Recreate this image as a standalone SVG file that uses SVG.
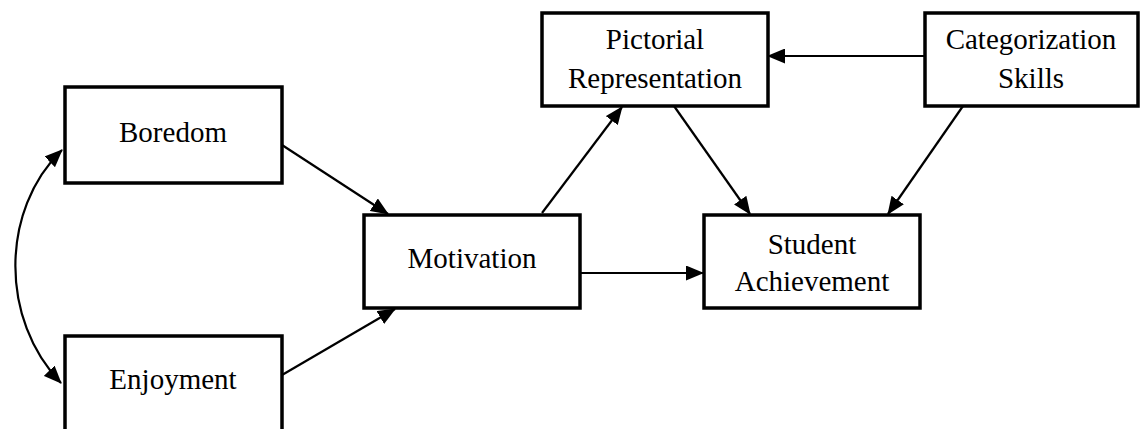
<svg xmlns="http://www.w3.org/2000/svg" width="1141" height="429" viewBox="0 0 1141 429">
<style>
.box{fill:#fff;stroke:#000;stroke-width:3.5}
.lbl{font-family:"Liberation Serif","Times New Roman",serif;font-size:29px;fill:#000;text-anchor:middle}
.edge{fill:none;stroke:#000;stroke-width:2.2}
</style>
<defs>
<marker id="ah" viewBox="0 0 18 15" refX="17" refY="7.5" markerWidth="18" markerHeight="15" markerUnits="userSpaceOnUse" orient="auto-start-reverse">
<path d="M0,0 L18,7.5 L0,15 z" fill="#000"/>
</marker>
</defs>
<rect width="1141" height="429" fill="#fff"/>
<g id="connectors">
<path class="edge" d="M282,145 L388,214" marker-end="url(#ah)"/>
<path class="edge" d="M282,375 L395,309" marker-end="url(#ah)"/>
<path class="edge" d="M542,213 L622,107" marker-end="url(#ah)"/>
<path class="edge" d="M674,106 L750,214" marker-end="url(#ah)"/>
<path class="edge" d="M924,56 L768,56" marker-end="url(#ah)"/>
<path class="edge" d="M963,106 L888,214" marker-end="url(#ah)"/>
<path class="edge" d="M580,273 L703,273" marker-end="url(#ah)"/>
<path class="edge" d="M62,150 C0,210 0,320 61,383" marker-start="url(#ah)" marker-end="url(#ah)"/>
</g>
<g id="boredom">
<rect class="box" x="65" y="87" width="217" height="96"/>
<text class="lbl" x="173" y="142">Boredom</text>
</g>
<g id="enjoyment">
<rect class="box" x="65" y="336" width="217" height="96"/>
<text class="lbl" x="173" y="389">Enjoyment</text>
</g>
<g id="motivation">
<rect class="box" x="364" y="215" width="216" height="93"/>
<text class="lbl" x="472" y="268">Motivation</text>
</g>
<g id="pictorial">
<rect class="box" x="542" y="13" width="226" height="93"/>
<text class="lbl" x="655" y="49">Pictorial</text>
<text class="lbl" x="655" y="88">Representation</text>
</g>
<g id="categorization">
<rect class="box" x="925" y="13" width="213" height="93"/>
<text class="lbl" x="1031" y="49">Categorization</text>
<text class="lbl" x="1031" y="88">Skills</text>
</g>
<g id="achievement">
<rect class="box" x="704" y="215" width="216" height="93"/>
<text class="lbl" x="812" y="254">Student</text>
<text class="lbl" x="812" y="291">Achievement</text>
</g>
</svg>
